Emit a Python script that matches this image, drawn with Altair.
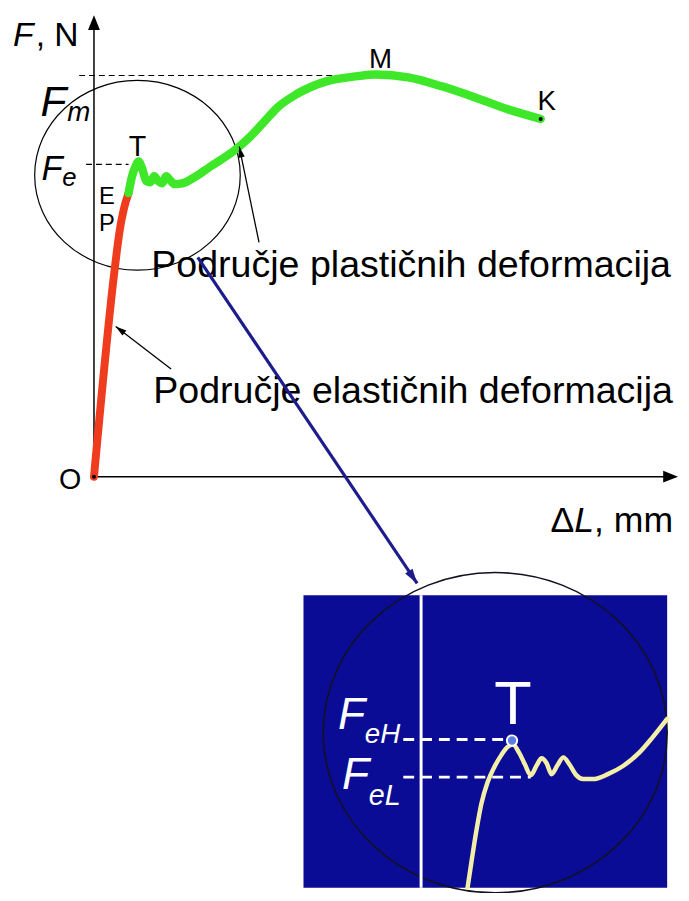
import altair as alt
import pandas as pd

FONT = "Liberation Sans"

# ---------------- data (diagram units: ΔL to the right of O, F above O) ----------------
# elastic part O -> P -> E
elastic_dl = [0, 20, 23, 26, 30, 35]
elastic_F = [0, 202, 227, 249, 270, 287]
# plastic part E -> T (yield wiggles) -> M -> K
plastic_dl = [35, 38, 42, 45, 49, 53, 57, 61, 65, 69, 73, 77, 82, 90, 100, 118, 142, 158,
              173, 185, 205, 235, 265, 285, 318, 352, 385, 418, 452]
plastic_F = [287, 302, 314, 319, 311, 299, 298, 304, 299, 297, 304, 300, 296, 297, 302, 314,
             330, 344, 360, 373, 387, 400, 405, 407, 404, 395, 384, 372, 362]
# magnified yield region (inset)
zoom_dl = [378, 383, 387, 392, 398, 405, 412, 418, 424, 430, 436, 442, 448, 453, 458, 463,
           469, 475, 481, 488, 495, 505, 520, 535, 552, 565, 580]
zoom_F = [-416, -383, -358, -331, -310, -294, -282, -274, -271, -279, -291, -302, -292, -285,
          -290, -301, -292, -284, -291, -302, -306, -306, -301, -293, -279, -264, -245]

F_m = 406      # maximum force level
F_e = 316      # yield force level
F_eH = -266    # upper yield (inset)
F_eL = -304    # lower yield (inset)

# ---------------- scales ----------------
X = alt.X("dl:Q", scale=alt.Scale(domain=[-87, 594], nice=False, zero=False), axis=None)
Y = alt.Y("F:Q", scale=alt.Scale(domain=[-416, 469], nice=False, zero=False), axis=None)


def line(dl, F, color, width, dash=None, interp="linear", cap="round"):
    df = pd.DataFrame({"dl": dl, "F": F, "i": list(range(len(dl)))})
    kw = dict(color=color, strokeWidth=width, interpolate=interp, strokeCap=cap, strokeJoin="round")
    if dash:
        kw["strokeDash"] = dash
        kw["strokeCap"] = "butt"
    return alt.Chart(df).mark_line(**kw).encode(x=X, y=Y, order="i:Q")


def label(text, dl, F, size, color="black", italic=False, align="left", baseline="alphabetic"):
    df = pd.DataFrame({"dl": [dl], "F": [F], "t": [text]})
    kw = dict(font=FONT, fontSize=size, color=color, align=align, baseline=baseline)
    if italic:
        kw["fontStyle"] = "italic"
    return alt.Chart(df).mark_text(**kw).encode(x=X, y=Y, text="t:N")


def symbol(dl, F, shape, size, color, filled, angle=0, width=1.0):
    df = pd.DataFrame({"dl": [dl], "F": [F]})
    kw = dict(shape=shape, size=size, color=color, filled=filled, opacity=1, strokeWidth=width)
    if angle:
        kw["angle"] = angle
    return alt.Chart(df).mark_point(**kw).encode(x=X, y=Y)


HEAD_WIDE = "M0,0L-0.4,1L0.4,1Z"
HEAD_NARROW = "M0,0L-0.3,1L0.3,1Z"
ELL_MAIN = "M-1,0A1,0.923,0,1,1,1,0A1,0.923,0,1,1,-1,0Z"
ELL_ZOOM = "M-1,0A1,0.931,0,1,1,1,0A1,0.931,0,1,1,-1,0Z"

layers = []

# inset background
rect_df = pd.DataFrame({"dl": [212], "dl2": [580], "F": [-120], "F2": [-416]})
layers.append(alt.Chart(rect_df).mark_rect(color="#0b0c95").encode(
    x=X, x2="dl2:Q", y=Y, y2="F2:Q"))

# magnifier circles
layers.append(symbol(44, 305, ELL_MAIN, 208 ** 2, "black", False, width=1.2))
layers.append(symbol(406, -259, ELL_ZOOM, 348 ** 2, "#111122", False, width=1.6))

# axes with arrowheads
layers.append(line([0, 0], [0, 455], "black", 1.5, cap="butt"))
layers.append(line([0, 578], [0, 0], "black", 1.5, cap="butt"))
layers.append(symbol(0, 467, HEAD_WIDE, 30 ** 2, "black", True))
layers.append(symbol(591, 0, HEAD_WIDE, 30 ** 2, "black", True, angle=90))

# dashed reference lines
layers.append(line([-15, 242], [F_m, F_m], "black", 1.1, dash=[6, 4]))
layers.append(line([-8, 35], [F_e, F_e], "black", 1.1, dash=[6, 4]))

# curve
layers.append(line(elastic_dl, elastic_F, "#f03c1e", 8, interp="monotone"))
layers.append(line(plastic_dl, plastic_F, "#3ee829", 8.5, interp="monotone"))
layers.append(symbol(0, 0, "circle", 16, "black", True))
layers.append(symbol(452, 362, "circle", 16, "black", True))

# annotation arrows
layers.append(line([167, 147], [237, 334], "black", 1.3, cap="butt"))
layers.append(symbol(147, 334, HEAD_NARROW, 22 ** 2, "black", True, angle=348))
layers.append(line([78, 22], [109, 152], "black", 1.3, cap="butt"))
layers.append(symbol(22, 152, HEAD_NARROW, 22 ** 2, "black", True, angle=307))

# texts of the main diagram
layers.append(label("F", -82, 436, 34, italic=True))
layers.append(label(", N", -59, 436, 34))
layers.append(label("F", -54, 365, 43, italic=True))
layers.append(label("m", -27, 360, 28, italic=True))
layers.append(label("F", -53, 300, 35, italic=True))
layers.append(label("e", -32, 294, 26, italic=True))
layers.append(label("E", 5, 276, 24))
layers.append(label("P", 5, 249, 24))
layers.append(label("T", 44, 324, 29, align="center"))
layers.append(label("M", 290, 414, 28, align="center"))
layers.append(label("K", 458, 371, 28, align="center"))
layers.append(label("O", -24, -12, 29, align="center"))
layers.append(label("Δ", 462, -56, 36))
layers.append(label("L", 486, -56, 36, italic=True))
layers.append(label(", mm", 506, -56, 36))
layers.append(label("Područje plastičnih deformacija", 58, 202, 38))
layers.append(label("Područje elastičnih deformacija", 60, 75, 38))

# blue pointer to the magnified view
layers.append(line([105, 327], [222, -108], "#1c1c8c", 3.2, cap="butt"))
layers.append(symbol(327, -108, HEAD_NARROW, 30 ** 2, "#1c1c8c", True, angle=146))

# inset content
layers.append(line([331, 331], [-120, -416], "white", 3, cap="butt"))
layers.append(line([313, 418], [F_eH, F_eH], "white", 3, dash=[11, 7]))
layers.append(line([313, 442], [F_eL, F_eL], "white", 3, dash=[11, 7]))
layers.append(line(zoom_dl, zoom_F, "#f4efa8", 4.5, interp="monotone"))
layers.append(symbol(423, -267, "circle", 110, "#5a7fe0", True))
layers.append(symbol(423, -267, "circle", 110, "white", False, width=2))
layers.append(label("T", 424, -250, 62, color="white", align="center"))
layers.append(label("F", 247, -255, 45, color="white", italic=True))
layers.append(label("eH", 274, -269, 28, color="white", italic=True))
layers.append(label("F", 251, -316, 45, color="white", italic=True))
layers.append(label("eL", 278, -332, 29, color="white", italic=True))

chart = alt.layer(*layers).properties(
    width=681, height=885, padding=0,
    autosize=alt.AutoSizeParams(type="none"),
    background="white",
).configure_view(stroke=None)

chart.save("out.html", embed_options={"renderer": "svg", "actions": False})
